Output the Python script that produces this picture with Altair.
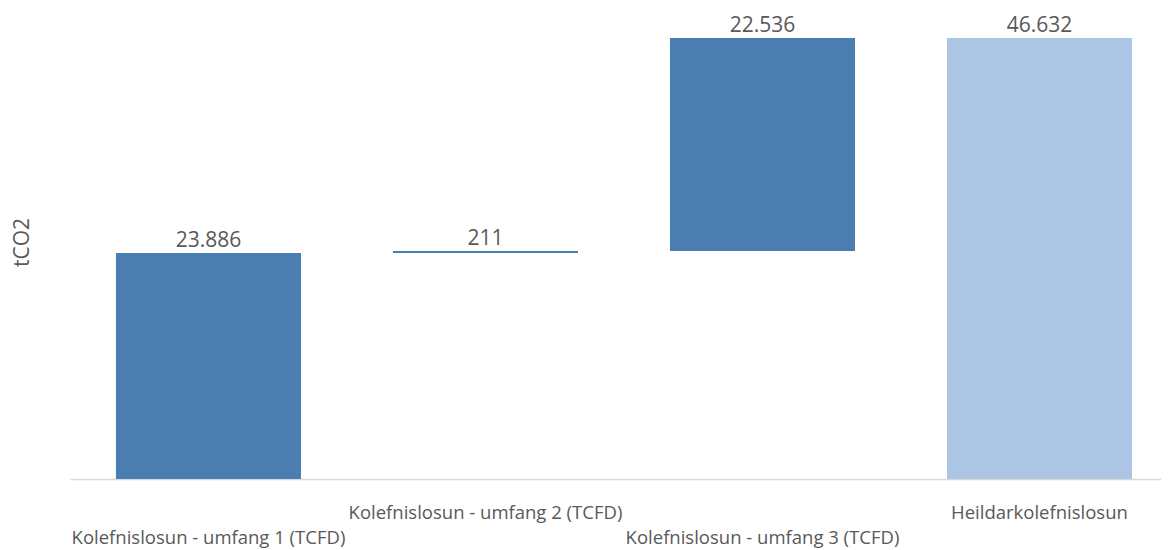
import altair as alt
import pandas as pd

categories = [
    "Kolefnislosun - umfang 1 (TCFD)",
    "Kolefnislosun - umfang 2 (TCFD)",
    "Kolefnislosun - umfang 3 (TCFD)",
    "Heildarkolefnislosun",
]
values = [23886, 211, 22536, 46632]
is_total = [False, False, False, True]
value_labels = ["23.886", "211", "22.536", "46.632"]
lower_row = ["Kolefnislosun - umfang 1 (TCFD)", "Kolefnislosun - umfang 3 (TCFD)"]

DARK = "#4a7eb0"
LIGHT = "#adc5e4"
TXT = "#595959"
FONT = "Open Sans"

rows = []
running = 0
for c, v, t, lab in zip(categories, values, is_total, value_labels):
    if t:
        s, e = 0, v
    else:
        s, e = running, running + v
        running += v
    rows.append({"cat": c, "start": s, "end": e, "label": lab, "color": LIGHT if t else DARK})
df = pd.DataFrame(rows)

label_expr = (
    "indexof(" + str(lower_row).replace('"', "'") + ", datum.value) >= 0 ? [' ', datum.value] : datum.value"
)

x = alt.X(
    "cat:N",
    sort=categories,
    scale=alt.Scale(paddingInner=0.332, paddingOuter=0.1353, align=0.613),
    axis=alt.Axis(
        title=None,
        labelAngle=0,
        ticks=False,
        domainColor="#d9d9d9",
        domainWidth=1.5,
        labelExpr=label_expr,
        labelLimit=0,
        labelOverlap=False,
        labelBound=False,
        labelFont=FONT,
        labelFontSize=18.5,
        labelColor=TXT,
        labelBaseline="top",
        labelPadding=24,
        labelLineHeight=25,
    ),
)

y = alt.Y(
    "start:Q",
    scale=alt.Scale(domain=[0, 48000], nice=False, zero=True),
    axis=alt.Axis(
        title="tCO2",
        labels=False,
        ticks=False,
        domain=False,
        grid=False,
        titleFont=FONT,
        titleFontSize=21,
        titleFontWeight="normal",
        titleColor=TXT,
        titleAngle=270,
        titleX=-48,
        titleY=217,
        titleAlign="center",
        titleBaseline="middle",
    ),
)

base = alt.Chart(df)
bars = base.mark_bar().encode(
    x=x,
    y=y,
    y2="end:Q",
    color=alt.Color("color:N", scale=None),
)
texts = base.mark_text(baseline="alphabetic", dy=-6, font=FONT, fontSize=21, color=TXT).encode(
    x=alt.X("cat:N", sort=categories),
    y=alt.Y("end:Q"),
    text="label:N",
)

chart = (
    alt.layer(bars, texts)
    .properties(
        width=1091,
        height=454,
        autosize=alt.AutoSizeParams(type="none"),
        padding={"left": 62, "top": 17, "right": 0, "bottom": 71},
    )
    .configure_view(stroke=None)
)

chart.save("out.html", embed_options={"renderer": "svg", "actions": False})
